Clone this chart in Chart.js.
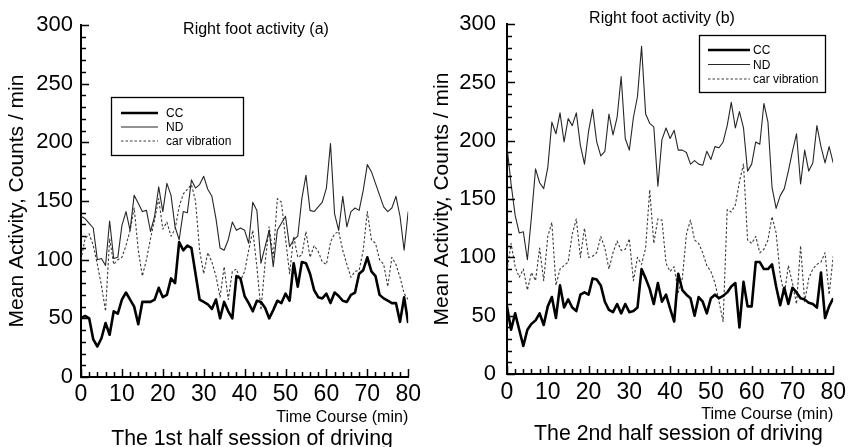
<!DOCTYPE html>
<html>
<head>
<meta charset="utf-8">
<script src="https://cdn.jsdelivr.net/npm/chart.js@4.4.1/dist/chart.umd.min.js"></script>
<style>
html, body { margin: 0; padding: 0; background: #fff; }
#wrap { position: relative; width: 851px; height: 447px; overflow: hidden; }
.panel { position: absolute; top: 0; height: 447px; }
</style>
</head>
<body>
<div id="wrap">
  <div class="panel" style="left:0;width:425px"><canvas id="chartA"></canvas></div>
  <div class="panel" style="left:425px;width:426px"><canvas id="chartB"></canvas></div>
</div>
<script>
// time course, one reading per minute
const minutes = Array.from({length: 81}, (_, i) => i);
const yTicks = [0, 50, 100, 150, 200, 250, 300];
const xTicks = [0, 10, 20, 30, 40, 50, 60, 70, 80];

// (a) 1st half session
const ccA = [50,52,50,32,26,33,46,36,56,54, 66,72,66,60,45,64,64,64,66,76, 68,70,84,80,115,108,112,110,88,66,
  64,62,58,66,50,64,56,50,86,84, 69,63,56,65,64,59,50,57,65,63, 71,65,97,77,98,97,88,74,68,67,
  71,63,72,69,65,64,70,72,88,91, 102,90,86,70,67,65,63,63,47,68, 46];
const ndA = [137,135,131,127,100,101,95,133,101,102, 129,141,125,155,148,141,142,124,137,162, 141,165,155,128,117,141,140,168,161,164,
  171,160,154,135,110,108,117,132,125,127, 125,114,149,142,97,111,125,94,125,131, 137,111,117,120,152,172,142,141,145,149,
  161,199,139,125,154,128,141,144,142,159, 181,175,165,155,145,141,144,154,137,108, 141];
const vibA = [100,118,122,112,96,78,56,118,96,100, 102,112,125,144,108,86,100,118,134,152, 126,132,120,126,145,156,160,164,150,108,
  88,106,98,86,68,94,66,90,92,82, 90,108,125,94,57,97,128,102,152,149, 118,88,120,102,104,124,102,112,107,98,
  96,115,122,124,108,96,85,90,91,108, 141,117,114,100,96,77,102,96,85,71, 66];

// (b) 2nd half session
const ccB = [58,38,52,38,24,38,43,46,52,42, 58,66,48,76,57,64,57,54,68,70, 68,82,81,76,62,55,53,60,52,60,
  53,54,57,90,82,73,60,78,62,68, 56,45,86,72,68,65,50,66,62,52, 65,68,65,67,70,75,78,40,79,58,
  58,96,96,90,90,94,75,59,74,60, 74,70,65,64,61,60,57,87,48,58, 65];
const ndB = [195,163,136,121,122,98,135,176,164,159, 177,216,206,224,199,219,213,224,196,180, 208,227,199,187,191,223,205,220,255,202,
  192,220,238,281,223,215,212,161,201,211, 202,209,192,192,190,180,183,180,179,191, 184,195,194,199,213,233,211,225,211,174,
  180,199,197,232,216,160,142,153,159,174, 191,206,163,192,174,181,213,195,181,195, 181];
const vibB = [88,112,92,83,90,72,87,80,108,80, 118,130,76,90,93,96,120,133,100,125, 100,101,104,118,108,90,104,114,106,107,
  116,80,100,94,108,158,112,133,132,95, 88,92,70,82,120,132,115,112,104,93, 88,78,62,45,141,139,145,165,180,115,
  112,118,104,107,115,135,121,85,68,93, 78,60,110,62,82,90,94,96,104,68, 101];

const FONT = '"Liberation Sans", Arial, Helvetica, sans-serif';
Chart.defaults.font.family = FONT;
Chart.defaults.color = '#000';

// minor/major tick marks pointing into the plot
const innerTicks = {
  id: 'innerTicks',
  afterDraw(chart) {
    const {ctx, chartArea: a, scales: {x, y}} = chart;
    ctx.save();
    ctx.strokeStyle = '#000';
    ctx.lineWidth = 1.5;
    ctx.beginPath();
    for (let v = y.min; v <= y.max; v += 10) {
      const py = Math.round(y.getPixelForValue(v)) + 0.5;
      ctx.moveTo(a.left, py);
      ctx.lineTo(a.left + (v % 50 === 0 ? 8 : 5), py);
    }
    for (let m = x.min; m <= x.max; m += 2) {
      const px = Math.round(x.getPixelForValue(m)) + 0.5;
      ctx.moveTo(px, a.bottom);
      ctx.lineTo(px, a.bottom - (m % 10 === 0 ? 8 : 5));
    }
    ctx.stroke();
    ctx.restore();
  }
};

// panel label, boxed legend and the caption under the axis
const panelDecor = {
  id: 'panelDecor',
  afterDraw(chart, args, opts) {
    const {ctx} = chart;
    ctx.save();
    ctx.fillStyle = '#000';
    ctx.font = '16px ' + FONT;
    ctx.textAlign = 'center';
    ctx.textBaseline = 'middle';
    ctx.fillText(opts.label, opts.labelX, opts.labelY);

    ctx.font = '21.3px ' + FONT;
    ctx.textBaseline = 'alphabetic';
    ctx.fillText(opts.caption, opts.capX, opts.capY);

    const b = opts.box;
    ctx.textBaseline = 'middle';
    ctx.strokeStyle = '#000';
    ctx.lineWidth = 1.3;
    ctx.strokeRect(b.x + 0.5, b.y + 0.5, b.w, b.h);
    ctx.font = '12px ' + FONT;
    ctx.textAlign = 'left';
    chart.data.datasets.forEach((ds, i) => {
      const yy = b.y + b.first + i * b.step;
      ctx.beginPath();
      ctx.strokeStyle = ds.borderColor;
      ctx.lineWidth = ds.borderWidth;
      ctx.setLineDash(ds.borderDash || []);
      ctx.moveTo(b.x + b.sx, yy);
      ctx.lineTo(b.x + b.sx + b.sw, yy);
      ctx.stroke();
      ctx.setLineDash([]);
      ctx.fillText(ds.label, b.x + b.sx + b.sw + b.gap, yy + 1);
    });
    ctx.restore();
  }
};

function buildPanel(id, cc, nd, vib, layout) {
  return new Chart(document.getElementById(id), {
    type: 'line',
    data: {
      labels: minutes,
      datasets: [
        {label: 'CC', data: cc, borderColor: '#000', borderWidth: 2.6},
        {label: 'ND', data: nd, borderColor: '#262626', borderWidth: 1.1},
        {label: 'car vibration', data: vib, borderColor: '#3a3a3a', borderWidth: 1.1, borderDash: [2.5, 2]}
      ]
    },
    options: {
      responsive: true,
      maintainAspectRatio: false,
      animation: false,
      events: [],
      elements: {
        point: {radius: 0},
        line: {tension: 0, borderJoinStyle: 'round'}
      },
      layout: {padding: {left: 0, right: layout.padRight, top: layout.padTop, bottom: layout.padBottom}},
      plugins: {
        legend: {display: false},
        tooltip: {enabled: false},
        panelDecor: layout.decor
      },
      scales: {
        x: {
          type: 'linear',
          min: 0,
          max: 80,
          afterBuildTicks: s => { s.ticks = xTicks.map(v => ({value: v})); },
          afterFit: s => { s.height = layout.xHeight; },
          grid: {display: false, drawTicks: false},
          border: {display: true, color: '#000', width: 2},
          ticks: {font: {size: 23}, padding: layout.xLabelPad, maxRotation: 0, color: '#000'},
          title: {
            display: true,
            text: 'Time Course (min)',
            align: 'end',
            font: {size: 16, lineHeight: 1},
            padding: {top: 0, bottom: 0},
            color: '#000'
          }
        },
        y: {
          min: 0,
          max: 300,
          afterBuildTicks: s => { s.ticks = yTicks.map(v => ({value: v})); },
          afterFit: s => { s.width = layout.yWidth; },
          grid: {display: false, drawTicks: false},
          border: {display: true, color: '#000', width: 2},
          ticks: {font: {size: 22}, padding: layout.yLabelPad, color: '#000'},
          title: {
            display: true,
            text: 'Mean Activity, Counts / min',
            font: {size: 21},
            padding: {top: 5, bottom: 0},
            color: '#000'
          }
        }
      }
    },
    plugins: [innerTicks, panelDecor]
  });
}

buildPanel('chartA', ccA, ndA, vibA, {
  padRight: 15, padTop: 25, padBottom: 21.8, yWidth: 81, xHeight: 48.2,
  yLabelPad: 8, xLabelPad: 4,
  decor: {
    label: 'Right foot activity (a)', labelX: 256, labelY: 30,
    caption: 'The 1st half session of driving', capX: 252, capY: 445,
    box: {x: 111, y: 97, w: 132, h: 58, first: 16, step: 14, sx: 10, sw: 37, gap: 8}
  }
});

buildPanel('chartB', ccB, ndB, vibB, {
  padRight: 10, padTop: 17, padBottom: 24.8, yWidth: 82, xHeight: 48.2,
  yLabelPad: 11, xLabelPad: 5,
  decor: {
    label: 'Right foot activity (b)', labelX: 237, labelY: 19,
    caption: 'The 2nd half session of driving', capX: 253.5, capY: 440,
    box: {x: 274, y: 35, w: 126, h: 57, first: 15, step: 14.5, sx: 9, sw: 42, gap: 3}
  }
});
</script>
</body>
</html>
